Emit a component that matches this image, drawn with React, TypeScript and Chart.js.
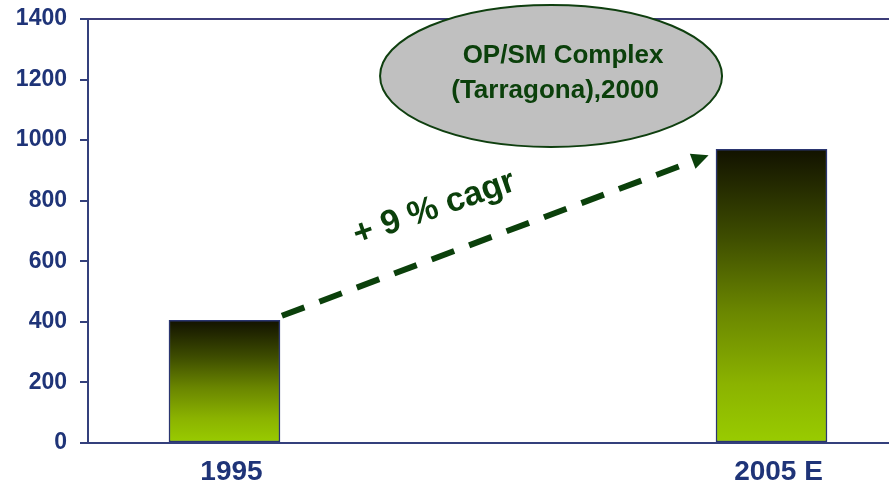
import React, { useEffect, useRef } from "react";
import { Chart, registerables } from "chart.js";

Chart.register(...registerables);

// ---- data ----
const categories = ["1995", "2005 E"];
const categoryPositions = [0, 1];
const capacityValues = [405, 970];
const yTicks = { min: 0, max: 1400, step: 200 };

// ---- annotations (data units) ----
const bubbleLines = ["OP/SM Complex", "(Tarragona),2000"];
const cagrLabel = "+ 9 % cagr";
const arrowFrom = { x: 0.105, y: 420 };
const arrowTo = { x: 0.885, y: 950 };
const bubbleCenter = { x: 0.597, y: 1212 };
const xRange = { min: -0.2495, max: 1.2148 };

const NAVY = "#1f3478";
const AXIS = "#34407c";
const GREEN = "#0b400b";
const FONT = "'Liberation Sans', Arial, sans-serif";

const overlayPlugin = {
  id: "overlay",
  afterDraw(chart: any) {
    const { ctx, chartArea, scales } = chart;
    const xs = scales.x;
    const ys = scales.y;
    // top frame line
    ctx.save();
    ctx.strokeStyle = "#3c3c78";
    ctx.lineWidth = 2;
    ctx.beginPath();
    ctx.moveTo(chartArea.left, chartArea.top);
    ctx.lineTo(chartArea.right, chartArea.top);
    ctx.stroke();

    // dashed arrow
    const x1 = xs.getPixelForValue(arrowFrom.x);
    const y1 = ys.getPixelForValue(arrowFrom.y);
    const x2 = xs.getPixelForValue(arrowTo.x);
    const y2 = ys.getPixelForValue(arrowTo.y);
    const ang = Math.atan2(y2 - y1, x2 - x1);
    const headLen = 17;
    const headW = 8;
    const bx = x2 - headLen * Math.cos(ang);
    const by = y2 - headLen * Math.sin(ang);
    ctx.strokeStyle = GREEN;
    ctx.fillStyle = GREEN;
    ctx.lineWidth = 6;
    ctx.setLineDash([24, 16]);
    ctx.beginPath();
    ctx.moveTo(x1, y1);
    ctx.lineTo(bx, by);
    ctx.stroke();
    ctx.setLineDash([]);
    ctx.beginPath();
    ctx.moveTo(x2, y2);
    ctx.lineTo(bx + headW * Math.sin(ang), by - headW * Math.cos(ang));
    ctx.lineTo(bx - headW * Math.sin(ang), by + headW * Math.cos(ang));
    ctx.closePath();
    ctx.fill();

    // cagr label
    const mx = (x1 + x2) / 2 - 61;
    const my = (y1 + y2) / 2 - 27;
    ctx.save();
    ctx.translate(mx, my);
    ctx.rotate(ang * 0.93);
    ctx.font = `bold 34px ${FONT}`;
    ctx.textAlign = "center";
    ctx.textBaseline = "middle";
    ctx.fillText(cagrLabel, 0, 0);
    ctx.restore();

    // bubble
    const cx = xs.getPixelForValue(bubbleCenter.x);
    const cy = ys.getPixelForValue(bubbleCenter.y);
    ctx.beginPath();
    ctx.ellipse(cx, cy, 171, 71, 0, 0, Math.PI * 2);
    ctx.fillStyle = "#c0c0c0";
    ctx.fill();
    ctx.strokeStyle = "#0f3f0f";
    ctx.lineWidth = 2;
    ctx.stroke();
    ctx.fillStyle = GREEN;
    ctx.font = `bold 26px ${FONT}`;
    ctx.textAlign = "center";
    ctx.textBaseline = "alphabetic";
    ctx.fillText(bubbleLines[0], cx + 12, cy - 13);
    ctx.fillText(bubbleLines[1], cx + 4, cy + 22);
    ctx.restore();
  },
};

export default function App() {
  const ref = useRef<HTMLCanvasElement | null>(null);
  useEffect(() => {
    if (!ref.current) return;
    const chart = new Chart(ref.current, {
      type: "bar",
      data: {
        datasets: [
          {
            data: categoryPositions.map((x, i) => ({ x, y: capacityValues[i] })),
            barThickness: 111,
            borderColor: "#2a3570",
            borderWidth: 1.5,
            borderSkipped: false,
            backgroundColor: (c: any) => {
              const chart = c.chart;
              if (!chart.chartArea || !c.raw) return "#99cc00";
              const ys = chart.scales.y;
              const top = ys.getPixelForValue(c.raw.y);
              const bottom = ys.getPixelForValue(0);
              const g = chart.ctx.createLinearGradient(0, top, 0, bottom);
              g.addColorStop(0, "#121200");
              g.addColorStop(0.3, "#3e4d00");
              g.addColorStop(0.55, "#6a8600");
              g.addColorStop(0.8, "#8bb300");
              g.addColorStop(1, "#99cc00");
              return g;
            },
          },
        ],
      },
      options: {
        animation: false,
        responsive: false,
        devicePixelRatio: 1,
        layout: { padding: { top: 19, left: 0, right: 0, bottom: 0 } },
        plugins: { legend: { display: false }, tooltip: { enabled: false } },
        scales: {
          x: {
            type: "linear",
            offset: false,
            min: xRange.min,
            max: xRange.max,
            afterBuildTicks: (axis: any) => {
              axis.ticks = categoryPositions.map((v) => ({ value: v }));
            },
            afterFit: (scale: any) => {
              scale.height = 42;
            },
            ticks: {
              callback: (v: any) => categories[categoryPositions.indexOf(v)] ?? "",
              font: { family: FONT, size: 28, weight: "bold" },
              color: NAVY,
              padding: 12,
              labelOffset: 7,
              maxRotation: 0,
              autoSkip: false,
            },
            grid: { drawOnChartArea: false, drawTicks: false, offset: false },
            border: { color: AXIS, width: 2 },
          },
          y: {
            min: yTicks.min,
            max: yTicks.max,
            afterFit: (scale: any) => {
              scale.width = 88;
              scale.paddingTop = 0;
              scale.paddingBottom = 0;
            },
            ticks: {
              stepSize: yTicks.step,
              callback: (v: any) => String(v),
              font: { family: FONT, size: 23, weight: "bold", lineHeight: 1 },
              color: NAVY,
              padding: 13,
            },
            grid: { drawOnChartArea: false, drawTicks: true, tickLength: 8, color: AXIS, lineWidth: 2 },
            border: { color: AXIS, width: 2 },
          },
        },
      },
      plugins: [overlayPlugin],
    });
    return () => chart.destroy();
  }, []);
  return (
    <div style={{ position: "fixed", left: 0, top: 0, width: 889, height: 485, background: "#fff" }}>
      <canvas ref={ref} width={889} height={485} style={{ display: "block", width: 889, height: 485 }} />
    </div>
  );
}
